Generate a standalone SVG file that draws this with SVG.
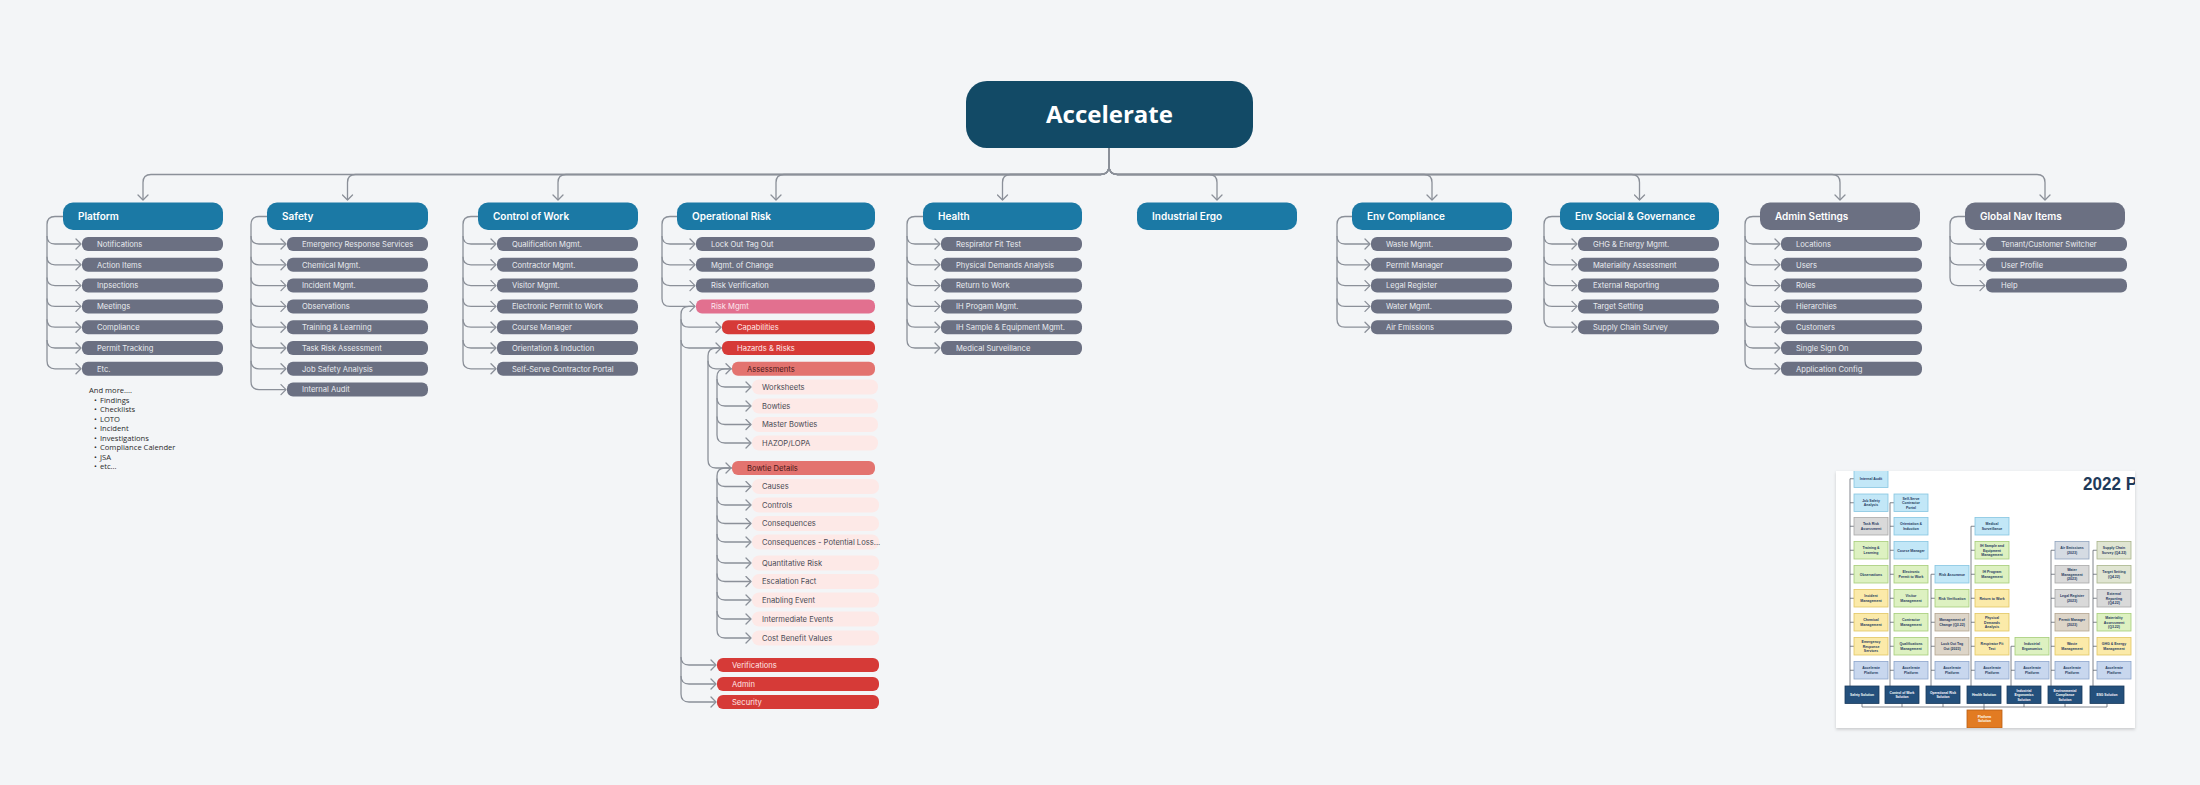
<svg xmlns="http://www.w3.org/2000/svg" width="2200" height="785" viewBox="0 0 2200 785">
<defs>
<style>
.hdr{fill:#1b79a5}
.hdrg{fill:#6b7082}
.ch{fill:#6b7082}
.pk{fill:#e2708f}
.rd{fill:#d63a37}
.sa{fill:#e3736f}
.lp{fill:#fde9e7}
.ht{font-family:Inter,"Noto Sans",sans-serif;font-weight:600;font-size:10px;fill:#ffffff}
.ct{font-family:Inter,"Noto Sans",sans-serif;font-size:7.6px;fill:#e9ebef}
.ctd{font-family:Inter,"Noto Sans",sans-serif;font-size:7.6px;fill:#4a1818}
.ctl{font-family:Inter,"Noto Sans",sans-serif;font-size:7.6px;fill:#4b4b55}
.cn{fill:none;stroke:#8b9099;stroke-width:1.3}
.cna{fill:none;stroke:#8b9099;stroke-width:1.3;marker-end:url(#ah)}
.lst{font-family:"Open Sans","Noto Sans",sans-serif;font-size:7.6px;fill:#2a2a2a}
.ml{fill:none;stroke:#5f6670;stroke-width:0.8}
.mb{fill:#c2e7f7;stroke:#86c5e0;stroke-width:0.8}
.mg{fill:#ddf1c1;stroke:#a6cd78;stroke-width:0.8}
.my{fill:#fbeaa9;stroke:#e2c662;stroke-width:0.8}
.mr{fill:#d9d9d9;stroke:#a8a8a8;stroke-width:0.8}
.mt{fill:#ddd5c8;stroke:#b3a58f;stroke-width:0.8}
.ma{fill:#d5dbe3;stroke:#8fa3bd;stroke-width:0.8}
.mo{fill:#e0e5d2;stroke:#a9b48a;stroke-width:0.8}
.mp{fill:#c8d7ee;stroke:#8ca5cb;stroke-width:0.8}
.ms{fill:#24507c;stroke:#1a3a5c;stroke-width:0.8}
.mx{fill:#e27b22;stroke:#b85f14;stroke-width:0.8}
.mtx{font-family:"Liberation Sans",Arial,sans-serif;font-weight:bold;font-size:3.5px;fill:#1f3a5f;text-anchor:middle}
.mtw{font-family:"Liberation Sans",Arial,sans-serif;font-weight:bold;font-size:3.3px;fill:#ffffff;text-anchor:middle}
</style>
<marker id="ah" viewBox="0 0 12 12" refX="9" refY="6" markerWidth="12" markerHeight="12" markerUnits="userSpaceOnUse" orient="auto">
<path d="M4,1 L9,6 L4,11" fill="none" stroke="#8b9099" stroke-width="1.3" stroke-linecap="round" stroke-linejoin="round"/>
</marker>
<clipPath id="panelClip"><rect x="1836" y="471" width="299" height="257"/></clipPath>
<filter id="sh" x="-5%" y="-5%" width="110%" height="115%"><feDropShadow dx="0" dy="1.5" stdDeviation="1.5" flood-color="#000" flood-opacity="0.18"/></filter>
</defs>
<rect x="0" y="0" width="2200" height="785" fill="#f3f5f7"/>

<g id="connectors">
<path class="cna" d="M1109,148 V166 Q1109,174.5 1100.5,174.5 H151 Q143,174.5 143,182.5 V200"/>
<path class="cna" d="M1109,148 V166 Q1109,174.5 1100.5,174.5 H355.5 Q347.5,174.5 347.5,182.5 V200"/>
<path class="cna" d="M1109,148 V166 Q1109,174.5 1100.5,174.5 H566 Q558,174.5 558,182.5 V200"/>
<path class="cna" d="M1109,148 V166 Q1109,174.5 1100.5,174.5 H784 Q776,174.5 776,182.5 V200"/>
<path class="cna" d="M1109,148 V166 Q1109,174.5 1100.5,174.5 H1010.5 Q1002.5,174.5 1002.5,182.5 V200"/>
<path class="cna" d="M1109,148 V166 Q1109,174.5 1117.5,174.5 H1209 Q1217,174.5 1217,182.5 V200"/>
<path class="cna" d="M1109,148 V166 Q1109,174.5 1117.5,174.5 H1424 Q1432,174.5 1432,182.5 V200"/>
<path class="cna" d="M1109,148 V166 Q1109,174.5 1117.5,174.5 H1631.5 Q1639.5,174.5 1639.5,182.5 V200"/>
<path class="cna" d="M1109,148 V166 Q1109,174.5 1117.5,174.5 H1832 Q1840,174.5 1840,182.5 V200"/>
<path class="cna" d="M1109,148 V166 Q1109,174.5 1117.5,174.5 H2037 Q2045,174.5 2045,182.5 V200"/>
<path class="cna" d="M63,216.5 H55 Q47,216.5 47,224.5 V360.8 Q47,368.8 55,368.8 H81"/>
<path class="cna" d="M47,236 Q47,244 55,244 H81"/>
<path class="cna" d="M47,256.8 Q47,264.8 55,264.8 H81"/>
<path class="cna" d="M47,277.6 Q47,285.6 55,285.6 H81"/>
<path class="cna" d="M47,298.4 Q47,306.4 55,306.4 H81"/>
<path class="cna" d="M47,319.2 Q47,327.2 55,327.2 H81"/>
<path class="cna" d="M47,340 Q47,348 55,348 H81"/>
<path class="cna" d="M267,216.5 H259 Q251,216.5 251,224.5 V381.6 Q251,389.6 259,389.6 H286"/>
<path class="cna" d="M251,236 Q251,244 259,244 H286"/>
<path class="cna" d="M251,256.8 Q251,264.8 259,264.8 H286"/>
<path class="cna" d="M251,277.6 Q251,285.6 259,285.6 H286"/>
<path class="cna" d="M251,298.4 Q251,306.4 259,306.4 H286"/>
<path class="cna" d="M251,319.2 Q251,327.2 259,327.2 H286"/>
<path class="cna" d="M251,340 Q251,348 259,348 H286"/>
<path class="cna" d="M251,360.8 Q251,368.8 259,368.8 H286"/>
<path class="cna" d="M478,216.5 H471 Q463,216.5 463,224.5 V360.8 Q463,368.8 471,368.8 H496"/>
<path class="cna" d="M463,236 Q463,244 471,244 H496"/>
<path class="cna" d="M463,256.8 Q463,264.8 471,264.8 H496"/>
<path class="cna" d="M463,277.6 Q463,285.6 471,285.6 H496"/>
<path class="cna" d="M463,298.4 Q463,306.4 471,306.4 H496"/>
<path class="cna" d="M463,319.2 Q463,327.2 471,327.2 H496"/>
<path class="cna" d="M463,340 Q463,348 471,348 H496"/>
<path class="cna" d="M677,216.5 H670 Q662,216.5 662,224.5 V298.4 Q662,306.4 670,306.4 H695"/>
<path class="cna" d="M662,236 Q662,244 670,244 H695"/>
<path class="cna" d="M662,256.8 Q662,264.8 670,264.8 H695"/>
<path class="cna" d="M662,277.6 Q662,285.6 670,285.6 H695"/>
<path class="cna" d="M695,306.4 H689 Q681,306.4 681,314.4 V694 Q681,702 689,702 H716"/>
<path class="cna" d="M681,319.2 Q681,327.2 689,327.2 H721"/>
<path class="cna" d="M681,340 Q681,348 689,348 H721"/>
<path class="cna" d="M681,657 Q681,665 689,665 H716"/>
<path class="cna" d="M681,676 Q681,684 689,684 H716"/>
<path class="cna" d="M722,348 H716 Q708,348 708,356 V460 Q708,468 716,468 H731"/>
<path class="cna" d="M708,360.8 Q708,368.8 716,368.8 H731"/>
<path class="cna" d="M732,368.8 H725 Q717,368.8 717,376.8 V435 Q717,443 725,443 H751"/>
<path class="cna" d="M717,379 Q717,387 725,387 H751"/>
<path class="cna" d="M717,398 Q717,406 725,406 H751"/>
<path class="cna" d="M717,416.5 Q717,424.5 725,424.5 H751"/>
<path class="cna" d="M732,468 H725 Q717,468 717,476 V630 Q717,638 725,638 H751"/>
<path class="cna" d="M717,478.5 Q717,486.5 725,486.5 H751"/>
<path class="cna" d="M717,497 Q717,505 725,505 H751"/>
<path class="cna" d="M717,515.5 Q717,523.5 725,523.5 H751"/>
<path class="cna" d="M717,534 Q717,542 725,542 H751"/>
<path class="cna" d="M717,555 Q717,563 725,563 H751"/>
<path class="cna" d="M717,573.5 Q717,581.5 725,581.5 H751"/>
<path class="cna" d="M717,592 Q717,600 725,600 H751"/>
<path class="cna" d="M717,611 Q717,619 725,619 H751"/>
<path class="cna" d="M923,216.5 H915 Q907,216.5 907,224.5 V340 Q907,348 915,348 H940"/>
<path class="cna" d="M907,236 Q907,244 915,244 H940"/>
<path class="cna" d="M907,256.8 Q907,264.8 915,264.8 H940"/>
<path class="cna" d="M907,277.6 Q907,285.6 915,285.6 H940"/>
<path class="cna" d="M907,298.4 Q907,306.4 915,306.4 H940"/>
<path class="cna" d="M907,319.2 Q907,327.2 915,327.2 H940"/>
<path class="cna" d="M1352,216.5 H1345 Q1337,216.5 1337,224.5 V319.2 Q1337,327.2 1345,327.2 H1370"/>
<path class="cna" d="M1337,236 Q1337,244 1345,244 H1370"/>
<path class="cna" d="M1337,256.8 Q1337,264.8 1345,264.8 H1370"/>
<path class="cna" d="M1337,277.6 Q1337,285.6 1345,285.6 H1370"/>
<path class="cna" d="M1337,298.4 Q1337,306.4 1345,306.4 H1370"/>
<path class="cna" d="M1560,216.5 H1552 Q1544,216.5 1544,224.5 V319.2 Q1544,327.2 1552,327.2 H1577"/>
<path class="cna" d="M1544,236 Q1544,244 1552,244 H1577"/>
<path class="cna" d="M1544,256.8 Q1544,264.8 1552,264.8 H1577"/>
<path class="cna" d="M1544,277.6 Q1544,285.6 1552,285.6 H1577"/>
<path class="cna" d="M1544,298.4 Q1544,306.4 1552,306.4 H1577"/>
<path class="cna" d="M1760,216.5 H1753 Q1745,216.5 1745,224.5 V360.8 Q1745,368.8 1753,368.8 H1780"/>
<path class="cna" d="M1745,236 Q1745,244 1753,244 H1780"/>
<path class="cna" d="M1745,256.8 Q1745,264.8 1753,264.8 H1780"/>
<path class="cna" d="M1745,277.6 Q1745,285.6 1753,285.6 H1780"/>
<path class="cna" d="M1745,298.4 Q1745,306.4 1753,306.4 H1780"/>
<path class="cna" d="M1745,319.2 Q1745,327.2 1753,327.2 H1780"/>
<path class="cna" d="M1745,340 Q1745,348 1753,348 H1780"/>
<path class="cna" d="M1965,216.5 H1958 Q1950,216.5 1950,224.5 V277.6 Q1950,285.6 1958,285.6 H1985"/>
<path class="cna" d="M1950,236 Q1950,244 1958,244 H1985"/>
<path class="cna" d="M1950,256.8 Q1950,264.8 1958,264.8 H1985"/>
</g>

<g id="n-accelerate">
<rect x="966" y="81" width="287" height="67" rx="21" fill="#124a66"/>
<text x="1109.5" y="123" text-anchor="middle" font-family="'Open Sans','Noto Sans',sans-serif" font-weight="bold" font-size="24" fill="#ffffff">Accelerate</text>
</g>

<g id="n-platform"><rect class="hdr" x="63" y="202.5" width="160" height="27.5" rx="10"/><text class="ht" x="78" y="220">Platform</text></g>
<g id="n-platform-1"><rect class="ch" x="82" y="237" width="141" height="14" rx="6"/><text class="ct" x="97" y="246.8">Notifications</text></g>
<g id="n-platform-2"><rect class="ch" x="82" y="257.8" width="141" height="14" rx="6"/><text class="ct" x="97" y="267.6">Action Items</text></g>
<g id="n-platform-3"><rect class="ch" x="82" y="278.6" width="141" height="14" rx="6"/><text class="ct" x="97" y="288.4">Inpsections</text></g>
<g id="n-platform-4"><rect class="ch" x="82" y="299.4" width="141" height="14" rx="6"/><text class="ct" x="97" y="309.2">Meetings</text></g>
<g id="n-platform-5"><rect class="ch" x="82" y="320.2" width="141" height="14" rx="6"/><text class="ct" x="97" y="330">Compliance</text></g>
<g id="n-platform-6"><rect class="ch" x="82" y="341" width="141" height="14" rx="6"/><text class="ct" x="97" y="350.8">Permit Tracking</text></g>
<g id="n-platform-7"><rect class="ch" x="82" y="361.8" width="141" height="14" rx="6"/><text class="ct" x="97" y="371.6">Etc.</text></g>
<g id="n-platform-more">
<text class="lst" x="89" y="393">And more....</text>
<text class="lst" x="94" y="402.5">•</text><text class="lst" x="100" y="402.5">Findings</text>
<text class="lst" x="94" y="412">•</text><text class="lst" x="100" y="412">Checklists</text>
<text class="lst" x="94" y="421.5">•</text><text class="lst" x="100" y="421.5">LOTO</text>
<text class="lst" x="94" y="431">•</text><text class="lst" x="100" y="431">Incident</text>
<text class="lst" x="94" y="440.5">•</text><text class="lst" x="100" y="440.5">Investigations</text>
<text class="lst" x="94" y="450">•</text><text class="lst" x="100" y="450">Compliance Calender</text>
<text class="lst" x="94" y="459.5">•</text><text class="lst" x="100" y="459.5">JSA</text>
<text class="lst" x="94" y="469">•</text><text class="lst" x="100" y="469">etc...</text>
</g>

<g id="n-safety"><rect class="hdr" x="267" y="202.5" width="161" height="27.5" rx="10"/><text class="ht" x="282" y="220">Safety</text></g>
<g id="n-safety-1"><rect class="ch" x="287" y="237" width="141" height="14" rx="6"/><text class="ct" x="302" y="246.8">Emergency Response Services</text></g>
<g id="n-safety-2"><rect class="ch" x="287" y="257.8" width="141" height="14" rx="6"/><text class="ct" x="302" y="267.6">Chemical Mgmt.</text></g>
<g id="n-safety-3"><rect class="ch" x="287" y="278.6" width="141" height="14" rx="6"/><text class="ct" x="302" y="288.4">Incident Mgmt.</text></g>
<g id="n-safety-4"><rect class="ch" x="287" y="299.4" width="141" height="14" rx="6"/><text class="ct" x="302" y="309.2">Observations</text></g>
<g id="n-safety-5"><rect class="ch" x="287" y="320.2" width="141" height="14" rx="6"/><text class="ct" x="302" y="330">Training &amp; Learning</text></g>
<g id="n-safety-6"><rect class="ch" x="287" y="341" width="141" height="14" rx="6"/><text class="ct" x="302" y="350.8">Task Risk Assessment</text></g>
<g id="n-safety-7"><rect class="ch" x="287" y="361.8" width="141" height="14" rx="6"/><text class="ct" x="302" y="371.6">Job Safety Analysis</text></g>
<g id="n-safety-8"><rect class="ch" x="287" y="382.6" width="141" height="14" rx="6"/><text class="ct" x="302" y="392.4">Internal Audit</text></g>

<g id="n-cow"><rect class="hdr" x="478" y="202.5" width="160" height="27.5" rx="10"/><text class="ht" x="493" y="220">Control of Work</text></g>
<g id="n-cow-1"><rect class="ch" x="497" y="237" width="141" height="14" rx="6"/><text class="ct" x="512" y="246.8">Qualification Mgmt.</text></g>
<g id="n-cow-2"><rect class="ch" x="497" y="257.8" width="141" height="14" rx="6"/><text class="ct" x="512" y="267.6">Contractor Mgmt.</text></g>
<g id="n-cow-3"><rect class="ch" x="497" y="278.6" width="141" height="14" rx="6"/><text class="ct" x="512" y="288.4">Visitor Mgmt.</text></g>
<g id="n-cow-4"><rect class="ch" x="497" y="299.4" width="141" height="14" rx="6"/><text class="ct" x="512" y="309.2">Electronic Permit to Work</text></g>
<g id="n-cow-5"><rect class="ch" x="497" y="320.2" width="141" height="14" rx="6"/><text class="ct" x="512" y="330">Course Manager</text></g>
<g id="n-cow-6"><rect class="ch" x="497" y="341" width="141" height="14" rx="6"/><text class="ct" x="512" y="350.8">Orientation &amp; Induction</text></g>
<g id="n-cow-7"><rect class="ch" x="497" y="361.8" width="141" height="14" rx="6"/><text class="ct" x="512" y="371.6">Self-Serve Contractor Portal</text></g>

<g id="n-oprisk"><rect class="hdr" x="677" y="202.5" width="198" height="27.5" rx="10"/><text class="ht" x="692" y="220">Operational Risk</text></g>
<g id="n-oprisk-1"><rect class="ch" x="696" y="237" width="179" height="14" rx="6"/><text class="ct" x="711" y="246.8">Lock Out Tag Out</text></g>
<g id="n-oprisk-2"><rect class="ch" x="696" y="257.8" width="179" height="14" rx="6"/><text class="ct" x="711" y="267.6">Mgmt. of Change</text></g>
<g id="n-oprisk-3"><rect class="ch" x="696" y="278.6" width="179" height="14" rx="6"/><text class="ct" x="711" y="288.4">Risk Verification</text></g>
<g id="n-riskmgmt"><rect class="pk" x="696" y="299.4" width="179" height="14" rx="6"/><text class="ct" x="711" y="309.2" style="fill:#fde8ee">Risk Mgmt</text></g>
<g id="n-capabilities"><rect class="rd" x="722" y="320.2" width="153" height="14" rx="6"/><text class="ct" x="737" y="330" style="fill:#ffe6e6">Capabilities</text></g>
<g id="n-hazards"><rect class="rd" x="722" y="341" width="153" height="14" rx="6"/><text class="ct" x="737" y="350.8" style="fill:#ffe6e6">Hazards &amp; Risks</text></g>
<g id="n-assessments"><rect class="sa" x="732" y="361.8" width="143" height="14" rx="6"/><text class="ctd" x="747" y="371.6">Assessments</text></g>
<g id="n-worksheets"><rect class="lp" x="752" y="379.5" width="126" height="15" rx="7"/><text class="ctl" x="762" y="389.8">Worksheets</text></g>
<g id="n-bowties"><rect class="lp" x="752" y="398.5" width="126" height="15" rx="7"/><text class="ctl" x="762" y="408.8">Bowties</text></g>
<g id="n-masterbowties"><rect class="lp" x="752" y="417" width="126" height="15" rx="7"/><text class="ctl" x="762" y="427.3">Master Bowties</text></g>
<g id="n-hazop"><rect class="lp" x="752" y="435.5" width="126" height="15" rx="7"/><text class="ctl" x="762" y="445.8">HAZOP/LOPA</text></g>
<g id="n-bowtiedetails"><rect class="sa" x="732" y="461" width="143" height="14" rx="6"/><text class="ctd" x="747" y="470.8">Bowtie Details</text></g>
<g id="n-causes"><rect class="lp" x="752" y="479" width="127" height="15" rx="7"/><text class="ctl" x="762" y="489.3">Causes</text></g>
<g id="n-controls"><rect class="lp" x="752" y="497.5" width="127" height="15" rx="7"/><text class="ctl" x="762" y="507.8">Controls</text></g>
<g id="n-consequences"><rect class="lp" x="752" y="516" width="127" height="15" rx="7"/><text class="ctl" x="762" y="526.3">Consequences</text></g>
<g id="n-consequences-loss"><rect class="lp" x="752" y="534.5" width="127" height="15" rx="7"/><text class="ctl" x="762" y="544.8">Consequences - Potential Loss...</text></g>
<g id="n-quant"><rect class="lp" x="752" y="555.5" width="127" height="15" rx="7"/><text class="ctl" x="762" y="565.8">Quantitative Risk</text></g>
<g id="n-escalation"><rect class="lp" x="752" y="574" width="127" height="15" rx="7"/><text class="ctl" x="762" y="584.3">Escalation Fact</text></g>
<g id="n-enabling"><rect class="lp" x="752" y="592.5" width="127" height="15" rx="7"/><text class="ctl" x="762" y="602.8">Enabling Event</text></g>
<g id="n-intermediate"><rect class="lp" x="752" y="611.5" width="127" height="15" rx="7"/><text class="ctl" x="762" y="621.8">Intermediate Events</text></g>
<g id="n-costbenefit"><rect class="lp" x="752" y="630.5" width="127" height="15" rx="7"/><text class="ctl" x="762" y="640.8">Cost Benefit Values</text></g>
<g id="n-verifications"><rect class="rd" x="717" y="658" width="162" height="14" rx="6"/><text class="ct" x="732" y="667.8" style="fill:#ffe6e6">Verifications</text></g>
<g id="n-admin-risk"><rect class="rd" x="717" y="677" width="162" height="14" rx="6"/><text class="ct" x="732" y="686.8" style="fill:#ffe6e6">Admin</text></g>
<g id="n-security"><rect class="rd" x="717" y="695" width="162" height="14" rx="6"/><text class="ct" x="732" y="704.8" style="fill:#ffe6e6">Security</text></g>

<g id="n-health"><rect class="hdr" x="923" y="202.5" width="159" height="27.5" rx="10"/><text class="ht" x="938" y="220">Health</text></g>
<g id="n-health-1"><rect class="ch" x="941" y="237" width="141" height="14" rx="6"/><text class="ct" x="956" y="246.8">Respirator Fit Test</text></g>
<g id="n-health-2"><rect class="ch" x="941" y="257.8" width="141" height="14" rx="6"/><text class="ct" x="956" y="267.6">Physical Demands Analysis</text></g>
<g id="n-health-3"><rect class="ch" x="941" y="278.6" width="141" height="14" rx="6"/><text class="ct" x="956" y="288.4">Return to Work</text></g>
<g id="n-health-4"><rect class="ch" x="941" y="299.4" width="141" height="14" rx="6"/><text class="ct" x="956" y="309.2">IH Progam Mgmt.</text></g>
<g id="n-health-5"><rect class="ch" x="941" y="320.2" width="141" height="14" rx="6"/><text class="ct" x="956" y="330">IH Sample &amp; Equipment Mgmt.</text></g>
<g id="n-health-6"><rect class="ch" x="941" y="341" width="141" height="14" rx="6"/><text class="ct" x="956" y="350.8">Medical Surveillance</text></g>

<g id="n-ergo"><rect class="hdr" x="1137" y="202.5" width="160" height="27.5" rx="10"/><text class="ht" x="1152" y="220">Industrial Ergo</text></g>

<g id="n-envc"><rect class="hdr" x="1352" y="202.5" width="160" height="27.5" rx="10"/><text class="ht" x="1367" y="220">Env Compliance</text></g>
<g id="n-envc-1"><rect class="ch" x="1371" y="237" width="141" height="14" rx="6"/><text class="ct" x="1386" y="246.8">Waste Mgmt.</text></g>
<g id="n-envc-2"><rect class="ch" x="1371" y="257.8" width="141" height="14" rx="6"/><text class="ct" x="1386" y="267.6">Permit Manager</text></g>
<g id="n-envc-3"><rect class="ch" x="1371" y="278.6" width="141" height="14" rx="6"/><text class="ct" x="1386" y="288.4">Legal Register</text></g>
<g id="n-envc-4"><rect class="ch" x="1371" y="299.4" width="141" height="14" rx="6"/><text class="ct" x="1386" y="309.2">Water Mgmt.</text></g>
<g id="n-envc-5"><rect class="ch" x="1371" y="320.2" width="141" height="14" rx="6"/><text class="ct" x="1386" y="330">Air Emissions</text></g>

<g id="n-esg"><rect class="hdr" x="1560" y="202.5" width="159" height="27.5" rx="10"/><text class="ht" x="1575" y="220">Env Social &amp; Governance</text></g>
<g id="n-esg-1"><rect class="ch" x="1578" y="237" width="141" height="14" rx="6"/><text class="ct" x="1593" y="246.8">GHG &amp; Energy Mgmt.</text></g>
<g id="n-esg-2"><rect class="ch" x="1578" y="257.8" width="141" height="14" rx="6"/><text class="ct" x="1593" y="267.6">Materiality Assessment</text></g>
<g id="n-esg-3"><rect class="ch" x="1578" y="278.6" width="141" height="14" rx="6"/><text class="ct" x="1593" y="288.4">External Reporting</text></g>
<g id="n-esg-4"><rect class="ch" x="1578" y="299.4" width="141" height="14" rx="6"/><text class="ct" x="1593" y="309.2">Target Setting</text></g>
<g id="n-esg-5"><rect class="ch" x="1578" y="320.2" width="141" height="14" rx="6"/><text class="ct" x="1593" y="330">Supply Chain Survey</text></g>

<g id="n-admin"><rect class="hdrg" x="1760" y="202.5" width="160" height="27.5" rx="10"/><text class="ht" x="1775" y="220">Admin Settings</text></g>
<g id="n-admin-1"><rect class="ch" x="1781" y="237" width="141" height="14" rx="6"/><text class="ct" x="1796" y="246.8">Locations</text></g>
<g id="n-admin-2"><rect class="ch" x="1781" y="257.8" width="141" height="14" rx="6"/><text class="ct" x="1796" y="267.6">Users</text></g>
<g id="n-admin-3"><rect class="ch" x="1781" y="278.6" width="141" height="14" rx="6"/><text class="ct" x="1796" y="288.4">Roles</text></g>
<g id="n-admin-4"><rect class="ch" x="1781" y="299.4" width="141" height="14" rx="6"/><text class="ct" x="1796" y="309.2">Hierarchies</text></g>
<g id="n-admin-5"><rect class="ch" x="1781" y="320.2" width="141" height="14" rx="6"/><text class="ct" x="1796" y="330">Customers</text></g>
<g id="n-admin-6"><rect class="ch" x="1781" y="341" width="141" height="14" rx="6"/><text class="ct" x="1796" y="350.8">Single Sign On</text></g>
<g id="n-admin-7"><rect class="ch" x="1781" y="361.8" width="141" height="14" rx="6"/><text class="ct" x="1796" y="371.6">Application Config</text></g>

<g id="n-globalnav"><rect class="hdrg" x="1965" y="202.5" width="160" height="27.5" rx="10"/><text class="ht" x="1980" y="220">Global Nav Items</text></g>
<g id="n-globalnav-1"><rect class="ch" x="1986" y="237" width="141" height="14" rx="6"/><text class="ct" x="2001" y="246.8">Tenant/Customer Switcher</text></g>
<g id="n-globalnav-2"><rect class="ch" x="1986" y="257.8" width="141" height="14" rx="6"/><text class="ct" x="2001" y="267.6">User Profile</text></g>
<g id="n-globalnav-3"><rect class="ch" x="1986" y="278.6" width="141" height="14" rx="6"/><text class="ct" x="2001" y="288.4">Help</text></g>

<g id="roadmap-panel">
<rect x="1836" y="471" width="299" height="257" fill="#ffffff" filter="url(#sh)"/>
<g clip-path="url(#panelClip)">
<text x="2083" y="490" font-family="'Liberation Sans',Arial,sans-serif" font-weight="bold" font-size="19" fill="#1f3a5a" textLength="54" lengthAdjust="spacingAndGlyphs">2022 P</text>
<path class="ml" d="M1850,478.75 V686 M1850,478.75 H1854 M1850,502.75 H1854 M1850,526.25 H1854 M1850,550.25 H1854 M1850,574.25 H1854 M1850,598.25 H1854 M1850,622.25 H1854 M1850,646.25 H1854 M1850,670.25 H1854"/>
<path class="ml" d="M1890,502.75 V686 M1890,502.75 H1894 M1890,526.25 H1894 M1890,550.25 H1894 M1890,574.25 H1894 M1890,598.25 H1894 M1890,622.25 H1894 M1890,646.25 H1894 M1890,670.25 H1894"/>
<path class="ml" d="M1931,574.25 V686 M1931,574.25 H1935 M1931,598.25 H1935 M1931,622.25 H1935 M1931,646.25 H1935 M1931,670.25 H1935"/>
<path class="ml" d="M1971,526.25 V686 M1971,526.25 H1975 M1971,550.25 H1975 M1971,574.25 H1975 M1971,598.25 H1975 M1971,622.25 H1975 M1971,646.25 H1975 M1971,670.25 H1975"/>
<path class="ml" d="M2011,646.25 V686 M2011,646.25 H2015 M2011,670.25 H2015"/>
<path class="ml" d="M2051,550.25 V686 M2051,550.25 H2055 M2051,574.25 H2055 M2051,598.25 H2055 M2051,622.25 H2055 M2051,646.25 H2055 M2051,670.25 H2055"/>
<path class="ml" d="M2093,550.25 V686 M2093,550.25 H2097 M2093,574.25 H2097 M2093,598.25 H2097 M2093,622.25 H2097 M2093,646.25 H2097 M2093,670.25 H2097"/>
<path class="ml" d="M1862,703.5 V707 H2107 V703.5 M1902,703.5 V707 M1943,703.5 V707 M1984,703.5 V710 M2024,703.5 V707 M2065,703.5 V707"/>
<rect class="mb" x="1854" y="470" width="34" height="17.5"/><text class="mtx" x="1871" y="480">Internal Audit</text>
<rect class="mb" x="1854" y="494" width="34" height="17.5"/><text class="mtx" x="1871" y="501.9">Job Safety<tspan x="1871" dy="4.4">Analysis</tspan></text>
<rect class="mr" x="1854" y="517.5" width="34" height="17.5"/><text class="mtx" x="1871" y="525.4">Task Risk<tspan x="1871" dy="4.4">Assessment</tspan></text>
<rect class="mg" x="1854" y="541.5" width="34" height="17.5"/><text class="mtx" x="1871" y="549.4">Training &amp;<tspan x="1871" dy="4.4">Learning</tspan></text>
<rect class="mg" x="1854" y="565.5" width="34" height="17.5"/><text class="mtx" x="1871" y="575.5">Observations</text>
<rect class="my" x="1854" y="589.5" width="34" height="17.5"/><text class="mtx" x="1871" y="597.4">Incident<tspan x="1871" dy="4.4">Management</tspan></text>
<rect class="my" x="1854" y="613.5" width="34" height="17.5"/><text class="mtx" x="1871" y="621.4">Chemical<tspan x="1871" dy="4.4">Management</tspan></text>
<rect class="my" x="1854" y="637.5" width="34" height="17.5"/><text class="mtx" x="1871" y="643.2">Emergency<tspan x="1871" dy="4.4">Response</tspan><tspan x="1871" dy="4.4">Services</tspan></text>
<rect class="mp" x="1854" y="661.5" width="34" height="17.5"/><text class="mtx" x="1871" y="669.4">Accelerate<tspan x="1871" dy="4.4">Platform</tspan></text>
<rect class="mb" x="1894" y="494" width="34" height="17.5"/><text class="mtx" x="1911" y="499.7">Self-Serve<tspan x="1911" dy="4.4">Contractor</tspan><tspan x="1911" dy="4.4">Portal</tspan></text>
<rect class="mb" x="1894" y="517.5" width="34" height="17.5"/><text class="mtx" x="1911" y="525.4">Orientation &amp;<tspan x="1911" dy="4.4">Induction</tspan></text>
<rect class="mb" x="1894" y="541.5" width="34" height="17.5"/><text class="mtx" x="1911" y="551.5">Course Manager</text>
<rect class="mg" x="1894" y="565.5" width="34" height="17.5"/><text class="mtx" x="1911" y="573.4">Electronic<tspan x="1911" dy="4.4">Permit to Work</tspan></text>
<rect class="mg" x="1894" y="589.5" width="34" height="17.5"/><text class="mtx" x="1911" y="597.4">Visitor<tspan x="1911" dy="4.4">Management</tspan></text>
<rect class="mg" x="1894" y="613.5" width="34" height="17.5"/><text class="mtx" x="1911" y="621.4">Contractor<tspan x="1911" dy="4.4">Management</tspan></text>
<rect class="mg" x="1894" y="637.5" width="34" height="17.5"/><text class="mtx" x="1911" y="645.4">Qualifications<tspan x="1911" dy="4.4">Management</tspan></text>
<rect class="mp" x="1894" y="661.5" width="34" height="17.5"/><text class="mtx" x="1911" y="669.4">Accelerate<tspan x="1911" dy="4.4">Platform</tspan></text>
<rect class="mb" x="1935" y="565.5" width="34" height="17.5"/><text class="mtx" x="1952" y="575.5">Risk Assurance</text>
<rect class="mg" x="1935" y="589.5" width="34" height="17.5"/><text class="mtx" x="1952" y="599.5">Risk Verification</text>
<rect class="mt" x="1935" y="613.5" width="34" height="17.5"/><text class="mtx" x="1952" y="621.4">Management of<tspan x="1952" dy="4.4">Change (Q3.22)</tspan></text>
<rect class="mt" x="1935" y="637.5" width="34" height="17.5"/><text class="mtx" x="1952" y="645.4">Lock Out Tag<tspan x="1952" dy="4.4">Out (2023)</tspan></text>
<rect class="mp" x="1935" y="661.5" width="34" height="17.5"/><text class="mtx" x="1952" y="669.4">Accelerate<tspan x="1952" dy="4.4">Platform</tspan></text>
<rect class="mb" x="1975" y="517.5" width="34" height="17.5"/><text class="mtx" x="1992" y="525.4">Medical<tspan x="1992" dy="4.4">Surveillance</tspan></text>
<rect class="mg" x="1975" y="541.5" width="34" height="17.5"/><text class="mtx" x="1992" y="547.2">IH Sample and<tspan x="1992" dy="4.4">Equipment</tspan><tspan x="1992" dy="4.4">Management</tspan></text>
<rect class="mg" x="1975" y="565.5" width="34" height="17.5"/><text class="mtx" x="1992" y="573.4">IH Program<tspan x="1992" dy="4.4">Management</tspan></text>
<rect class="my" x="1975" y="589.5" width="34" height="17.5"/><text class="mtx" x="1992" y="599.5">Return to Work</text>
<rect class="my" x="1975" y="613.5" width="34" height="17.5"/><text class="mtx" x="1992" y="619.2">Physical<tspan x="1992" dy="4.4">Demands</tspan><tspan x="1992" dy="4.4">Analysis</tspan></text>
<rect class="my" x="1975" y="637.5" width="34" height="17.5"/><text class="mtx" x="1992" y="645.4">Respirator Fit<tspan x="1992" dy="4.4">Test</tspan></text>
<rect class="mp" x="1975" y="661.5" width="34" height="17.5"/><text class="mtx" x="1992" y="669.4">Accelerate<tspan x="1992" dy="4.4">Platform</tspan></text>
<rect class="mg" x="2015" y="637.5" width="34" height="17.5"/><text class="mtx" x="2032" y="645.4">Industrial<tspan x="2032" dy="4.4">Ergonomics</tspan></text>
<rect class="mp" x="2015" y="661.5" width="34" height="17.5"/><text class="mtx" x="2032" y="669.4">Accelerate<tspan x="2032" dy="4.4">Platform</tspan></text>
<rect class="ma" x="2055" y="541.5" width="34" height="17.5"/><text class="mtx" x="2072" y="549.4">Air Emissions<tspan x="2072" dy="4.4">(2023)</tspan></text>
<rect class="mr" x="2055" y="565.5" width="34" height="17.5"/><text class="mtx" x="2072" y="571.2">Water<tspan x="2072" dy="4.4">Management</tspan><tspan x="2072" dy="4.4">(2023)</tspan></text>
<rect class="mr" x="2055" y="589.5" width="34" height="17.5"/><text class="mtx" x="2072" y="597.4">Legal Register<tspan x="2072" dy="4.4">(2023)</tspan></text>
<rect class="mt" x="2055" y="613.5" width="34" height="17.5"/><text class="mtx" x="2072" y="621.4">Permit Manager<tspan x="2072" dy="4.4">(2023)</tspan></text>
<rect class="my" x="2055" y="637.5" width="34" height="17.5"/><text class="mtx" x="2072" y="645.4">Waste<tspan x="2072" dy="4.4">Management</tspan></text>
<rect class="mp" x="2055" y="661.5" width="34" height="17.5"/><text class="mtx" x="2072" y="669.4">Accelerate<tspan x="2072" dy="4.4">Platform</tspan></text>
<rect class="mo" x="2097" y="541.5" width="34" height="17.5"/><text class="mtx" x="2114" y="549.4">Supply Chain<tspan x="2114" dy="4.4">Survey (Q4.22)</tspan></text>
<rect class="mo" x="2097" y="565.5" width="34" height="17.5"/><text class="mtx" x="2114" y="573.4">Target Setting<tspan x="2114" dy="4.4">(Q4.22)</tspan></text>
<rect class="mr" x="2097" y="589.5" width="34" height="17.5"/><text class="mtx" x="2114" y="595.2">External<tspan x="2114" dy="4.4">Reporting</tspan><tspan x="2114" dy="4.4">(Q4.22)</tspan></text>
<rect class="mg" x="2097" y="613.5" width="34" height="17.5"/><text class="mtx" x="2114" y="619.2">Materiality<tspan x="2114" dy="4.4">Assessment</tspan><tspan x="2114" dy="4.4">(Q3.22)</tspan></text>
<rect class="my" x="2097" y="637.5" width="34" height="17.5"/><text class="mtx" x="2114" y="645.4">GHG &amp; Energy<tspan x="2114" dy="4.4">Management</tspan></text>
<rect class="mp" x="2097" y="661.5" width="34" height="17.5"/><text class="mtx" x="2114" y="669.4">Accelerate<tspan x="2114" dy="4.4">Platform</tspan></text>
<rect class="ms" x="1845" y="686" width="34" height="17.5"/><text class="mtw" x="1862" y="696">Safety Solution</text>
<rect class="ms" x="1885" y="686" width="34" height="17.5"/><text class="mtw" x="1902" y="693.9">Control of Work<tspan x="1902" dy="4.4">Solution</tspan></text>
<rect class="ms" x="1926" y="686" width="34" height="17.5"/><text class="mtw" x="1943" y="693.9">Operational Risk<tspan x="1943" dy="4.4">Solution</tspan></text>
<rect class="ms" x="1967" y="686" width="34" height="17.5"/><text class="mtw" x="1984" y="696">Health Solution</text>
<rect class="ms" x="2007" y="686" width="34" height="17.5"/><text class="mtw" x="2024" y="691.7">Industrial<tspan x="2024" dy="4.4">Ergonomics</tspan><tspan x="2024" dy="4.4">Solution</tspan></text>
<rect class="ms" x="2048" y="686" width="34" height="17.5"/><text class="mtw" x="2065" y="691.7">Environmental<tspan x="2065" dy="4.4">Compliance</tspan><tspan x="2065" dy="4.4">Solution</tspan></text>
<rect class="ms" x="2090" y="686" width="34" height="17.5"/><text class="mtw" x="2107" y="696">ESG Solution</text>
<rect class="mx" x="1967" y="710" width="35" height="18"/><text class="mtw" x="1984.5" y="717.5">Platform<tspan x="1984.5" dy="4.4">Solution</tspan></text>
</g>
</g>
</svg>
